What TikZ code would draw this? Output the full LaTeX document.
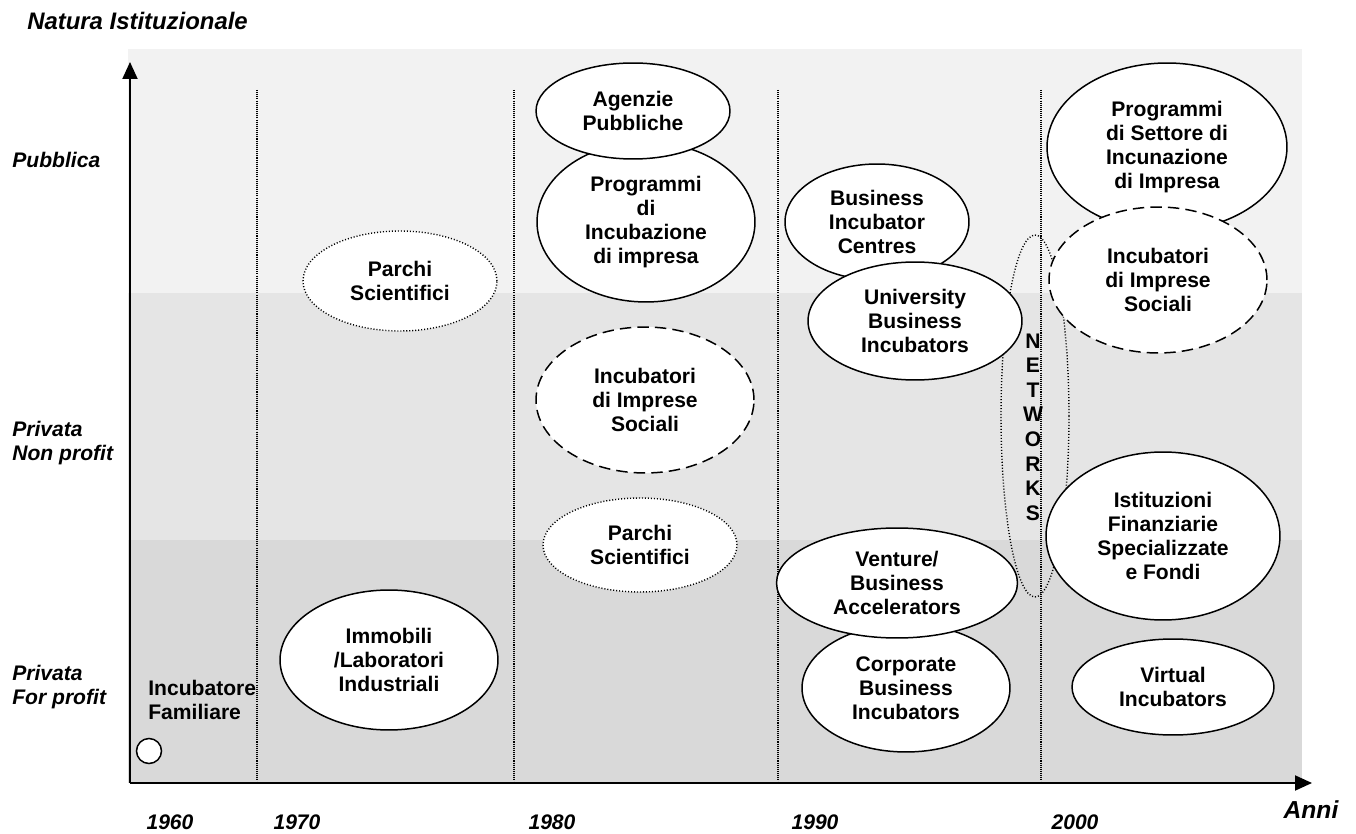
\documentclass[tikz,border=0pt]{standalone}
\usepackage{fontspec}
\setmainfont{Liberation Sans}
\usetikzlibrary{shapes.geometric,arrows.meta}

\begin{document}
\begin{tikzpicture}[x=0.02cm, y=-0.02cm,
    every node/.style={font=\fontsize{12}{13.7}\selectfont\bfseries, align=center, inner sep=0pt},
    blob/.style={ellipse, draw, fill=white, line width=0.85pt},
    dashblob/.style={blob, dash pattern=on 6.5pt off 3.5pt},
    dotblob/.style={blob, line width=0.8pt, dash pattern=on 0.6pt off 1.1pt},
    axis/.style={line width=1.1pt, -{Triangle[length=0.34cm,width=0.3cm]}},
    grid/.style={line width=0.6pt, dash pattern=on 0.6pt off 0.6pt},
    lbl/.style={font=\fontsize{12}{13.7}\selectfont\bfseries\itshape, align=left},
    biglbl/.style={lbl, font=\fontsize{13.6}{15}\selectfont\bfseries\itshape}]
  \useasboundingbox (0,0) rectangle (1356,834);

  % fasce
  \fill[black!5] (128,49) rectangle (1302,293);
  \fill[black!10] (128,293) rectangle (1302,540);
  \fill[black!15] (128,540) rectangle (1302,783);

  \foreach \x in {257,514,778,1041}
    \draw[grid] (\x,90) -- (\x,783);

  \node[ellipse, draw, line width=0.8pt, dash pattern=on 0.6pt off 1.1pt,
        minimum width=1.36cm, minimum height=7.24cm] (net) at (1035,416) {};

  % 1960 - 1970
  \node[circle, draw, fill=white, line width=0.85pt, minimum size=0.5cm] (fam) at (149,751) {};
  \node[anchor=west, align=left] (famtxt) at (148,700) {Incubatore\\Familiare};
  \node[dotblob, minimum width=3.88cm, minimum height=2cm] (parchiA) at (400,281) {Parchi\\Scientifici};
  \node[blob, minimum width=4.36cm, minimum height=2.8cm] (immobili) at (389,660) {Immobili\\/Laboratori\\Industriali};

  % 1980
  \node[blob, minimum width=4.36cm, minimum height=3.2cm] (proginc) at (646,222) {Programmi\\di\\Incubazione\\di impresa};
  \node[blob, minimum width=3.88cm, minimum height=1.92cm] (agenzie) at (633,111) {Agenzie\\Pubbliche};
  \node[dashblob, minimum width=4.36cm, minimum height=2.92cm] (socialiA) at (645,400) {Incubatori\\di Imprese\\Sociali};
  \node[dotblob, minimum width=3.88cm, minimum height=1.88cm] (parchiB) at (640,545) {Parchi\\Scientifici};

  % 1990
  \node[blob, minimum width=3.68cm, minimum height=2.32cm] (bic) at (877,222) {Business\\Incubator\\Centres};
  \node[blob, minimum width=4.28cm, minimum height=2.36cm] (univ) at (915,321) {University\\Business\\Incubators};
  \node[blob, minimum width=4.16cm, minimum height=2.56cm] (corp) at (906,688) {Corporate\\Business\\Incubators};
  \node[blob, minimum width=4.82cm, minimum height=2.2cm] (venture) at (897,583) {Venture/\\Business\\Accelerators};

  % 2000
  \node[blob, minimum width=4.8cm, minimum height=3.36cm] (progsett) at (1167,147) {Programmi\\di Settore di\\Incunazione\\di Impresa};
  \node[dashblob, minimum width=4.36cm, minimum height=2.92cm] (socialiB) at (1158,280) {Incubatori\\di Imprese\\Sociali};
  \node[blob, minimum width=4.68cm, minimum height=3.36cm] (istit) at (1163,536) {Istituzioni\\Finanziarie\\Specializzate\\e Fondi};
  \node[blob, minimum width=4.04cm, minimum height=1.92cm] (virtual) at (1173,687) {Virtual\\Incubators};

  \node[font=\fontsize{12}{14}\selectfont\bfseries] (nettxt) at (1033,427) {N\\E\\T\\W\\O\\R\\K\\S};

  % assi
  \coordinate (o) at (130,783);
  \coordinate (ytop) at (130,62);
  \coordinate (xend) at (1312,783);
  \draw[axis] (o) -- (ytop);
  \draw[axis] (o) -- (xend);

  \node[biglbl, anchor=west] (natura) at (27,21) {Natura Istituzionale};
  \node[lbl, anchor=west] (pubb) at (12,160) {Pubblica};
  \node[lbl, anchor=west] (nonprof) at (12,443) {Privata\\Non profit};
  \node[lbl, anchor=west] (forprof) at (12,687) {Privata\\For profit};

  \node[lbl] (y60) at (170,822) {1960};
  \node[lbl] (y70) at (297,822) {1970};
  \node[lbl] (y80) at (552,822) {1980};
  \node[lbl] (y90) at (815,822) {1990};
  \node[lbl] (y00) at (1075,822) {2000};
  \node[biglbl, font=\fontsize{14}{16}\selectfont\bfseries\itshape] (anni) at (1311,810) {Anni};
\end{tikzpicture}
\end{document}
